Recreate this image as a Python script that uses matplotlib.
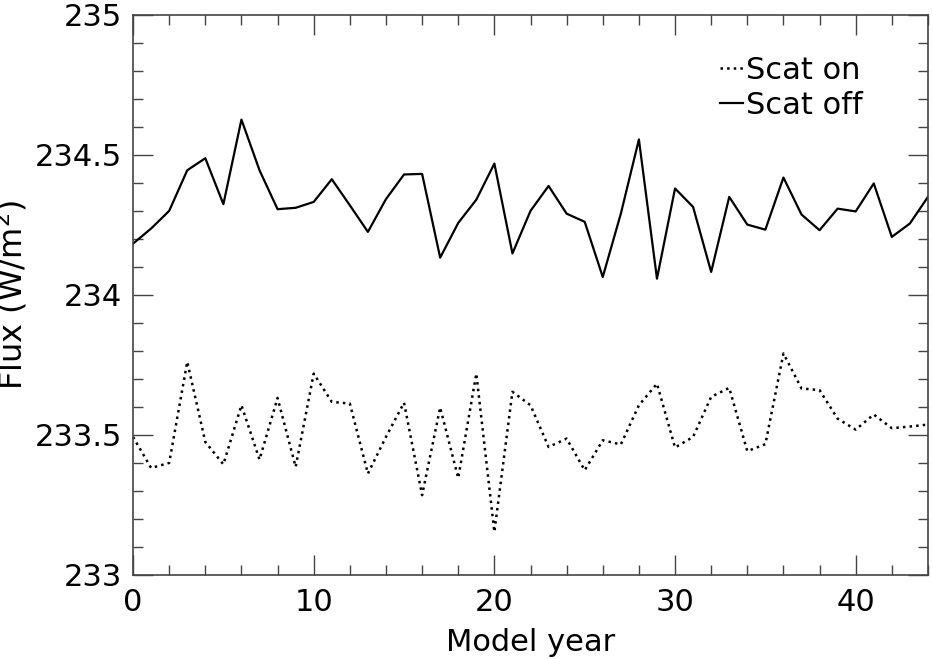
import numpy as np
import matplotlib
matplotlib.use("Agg")
import matplotlib.pyplot as plt
from matplotlib.ticker import MultipleLocator

# model years 0..44
years = list(range(45))

# Scat off (solid line)
scat_off = [234.183, 234.237, 234.300, 234.445, 234.488, 234.324, 234.626, 234.445,
            234.306, 234.311, 234.332, 234.413, 234.320, 234.225, 234.342, 234.430,
            234.432, 234.133, 234.257, 234.340, 234.469, 234.148, 234.300, 234.389,
            234.290, 234.261, 234.064, 234.290, 234.555, 234.058, 234.380, 234.314,
            234.082, 234.350, 234.251, 234.233, 234.419, 234.287, 234.231, 234.308,
            234.298, 234.398, 234.207, 234.255, 234.350]

# Scat on (dotted line)
scat_on = [233.493, 233.382, 233.400, 233.761, 233.475, 233.395, 233.606, 233.412,
           233.632, 233.386, 233.719, 233.618, 233.612, 233.362, 233.493, 233.615,
           233.285, 233.598, 233.346, 233.719, 233.154, 233.654, 233.606, 233.457,
           233.487, 233.374, 233.481, 233.466, 233.606, 233.683, 233.455, 233.493,
           233.636, 233.668, 233.442, 233.467, 233.791, 233.666, 233.660, 233.558,
           233.519, 233.573, 233.524, 233.530, 233.537]

plt.rcParams['font.family'] = ['DejaVu Sans']

fig = plt.figure(figsize=(9.33, 6.59), dpi=100)
ax = fig.add_axes([0.1426, 0.1275, 0.852, 0.850])

ax.plot(years, scat_on, color='black', linestyle=':', linewidth=1.8, label='Scat on')
ax.plot(years, scat_off, color='black', linestyle='-', linewidth=1.6, label='Scat off')

ax.set_xlim(0, 44)
ax.set_ylim(233, 235)

ax.xaxis.set_major_locator(MultipleLocator(10))
ax.xaxis.set_minor_locator(MultipleLocator(2))
ax.yaxis.set_minor_locator(MultipleLocator(0.1))
ax.set_yticks([233, 233.5, 234, 234.5, 235])
ax.set_yticklabels(['233', '233.5', '234', '234.5', '235'])

ax.tick_params(which='both', direction='in', top=True, right=True, color='#444444',
               labelsize=22, width=1.0)
ax.tick_params(axis='x', which='both', pad=9.5)
ax.tick_params(axis='y', which='both', pad=8)
ax.tick_params(which='major', length=14.4)
ax.tick_params(which='minor', length=7.2)
for sp in ax.spines.values():
    sp.set_color('#444444')
    sp.set_linewidth(1.2)

ax.set_xlabel('Model year', fontsize=22, labelpad=7.5)
ax.set_ylabel('Flux (W/m$^2$)', fontsize=23)
ax.yaxis.set_label_coords(-0.130, 0.5)

ax.legend(loc='upper right', frameon=False, fontsize=22, handlelength=0.75,
          handletextpad=0.1, labelspacing=0.2, borderaxespad=0.0,
          bbox_to_anchor=(0.933, 0.949))

fig.savefig('out.png', dpi=100)
